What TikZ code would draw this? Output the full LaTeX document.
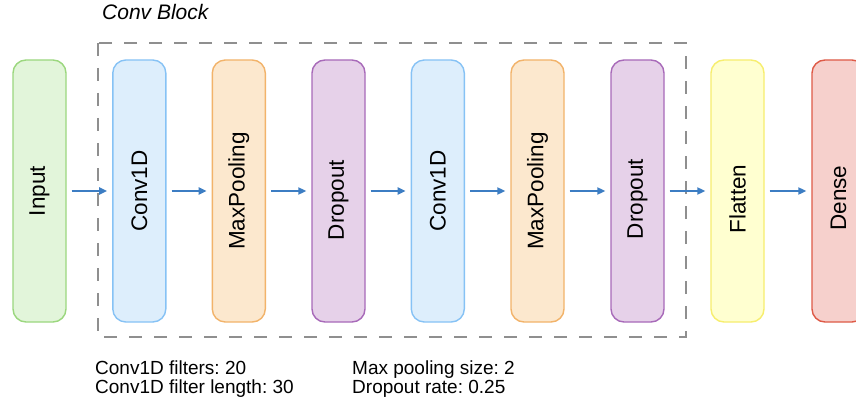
\documentclass[tikz,border=0pt]{standalone}
\usepackage{fontspec}
\setmainfont{Liberation Sans}
\usetikzlibrary{arrows.meta}
\frenchspacing
\definecolor{greenF}{HTML}{E2F5DA}\definecolor{greenD}{HTML}{9BD77E}
\definecolor{blueF}{HTML}{DDEEFC}\definecolor{blueD}{HTML}{86C2F5}
\definecolor{orangeF}{HTML}{FCE8CE}\definecolor{orangeD}{HTML}{F2B36A}
\definecolor{purpleF}{HTML}{E6D1E9}\definecolor{purpleD}{HTML}{A86AB9}
\definecolor{yellowF}{HTML}{FFFFD0}\definecolor{yellowD}{HTML}{F7EE6E}
\definecolor{redF}{HTML}{F6D0CC}\definecolor{redD}{HTML}{DE5A47}
\definecolor{arrC}{HTML}{3C7DC3}
\definecolor{grayD}{HTML}{8F8F8F}
\tikzset{
  blk/.style={rounded corners=13pt, line width=1.4pt, minimum width=53pt, minimum height=262pt, inner sep=0pt},
  lbl/.style={rotate=90, font=\fontsize{22.5}{24}\selectfont, inner sep=0pt},
  arr/.style={-{Triangle[length=8pt,width=7pt]}, line width=2.3pt, color=arrC, shorten <=5pt, shorten >=5pt},
  note/.style={font=\fontsize{19}{18.5}\selectfont\frenchspacing, align=left, anchor=north west, inner sep=0pt}
}
\begin{document}
\begin{tikzpicture}[x=1pt,y=-1pt]
\useasboundingbox (0,0) rectangle (856,409);
\fill[white] (0,0) rectangle (856,409);
\draw[grayD, line width=2.2pt, dash pattern=on 13pt off 12pt] (98,43) rectangle (686,337);
\node[font=\fontsize{21}{24}\selectfont\itshape, anchor=base west, inner sep=0pt] (title) at (102,19.5) {Conv Block};
\node[blk, fill=greenF, draw=greenD] (n0) at (39.5,191) {};
\node[blk, fill=blueF, draw=blueD] (n1) at (139.3,191) {};
\node[blk, fill=orangeF, draw=orangeD] (n2) at (238.8,191) {};
\node[blk, fill=purpleF, draw=purpleD] (n3) at (338.5,191) {};
\node[blk, fill=blueF, draw=blueD] (n4) at (437.8,191) {};
\node[blk, fill=orangeF, draw=orangeD] (n5) at (537.5,191) {};
\node[blk, fill=purpleF, draw=purpleD] (n6) at (637.5,191) {};
\node[blk, fill=yellowF, draw=yellowD] (n7) at (737.5,191) {};
\node[blk, fill=redF, draw=redD] (n8) at (838.5,191) {};
\node[lbl] (l0) at (n0.center) {Input};
\node[lbl] (l1) at (n1.center) {Conv1D};
\node[lbl] (l2) at (n2.center) {MaxPooling};
\node[lbl] (l3) at ([yshift=-9pt]n3.center) {Dropout};
\node[lbl] (l4) at (n4.center) {Conv1D};
\node[lbl] (l5) at (n5.center) {MaxPooling};
\node[lbl] (l6) at ([yshift=-8pt]n6.center) {Dropout};
\node[lbl] (l7) at ([yshift=-8pt]n7.center) {Flatten};
\node[lbl] (l8) at ([yshift=-7pt]n8.center) {Dense};
\draw[arr] (n0) -- (n1);
\draw[arr] (n1) -- (n2);
\draw[arr] (n2) -- (n3);
\draw[arr] (n3) -- (n4);
\draw[arr] (n4) -- (n5);
\draw[arr] (n5) -- (n6);
\draw[arr] (n6) -- (n7);
\draw[arr] (n7) -- (n8);
\node[note] (t1) at (95,361) {Conv1D filters: 20\\Conv1D filter length: 30};
\node[note] (t2) at (352,361) {Max pooling size: 2\\Dropout rate: 0.25};
\end{tikzpicture}
\end{document}
